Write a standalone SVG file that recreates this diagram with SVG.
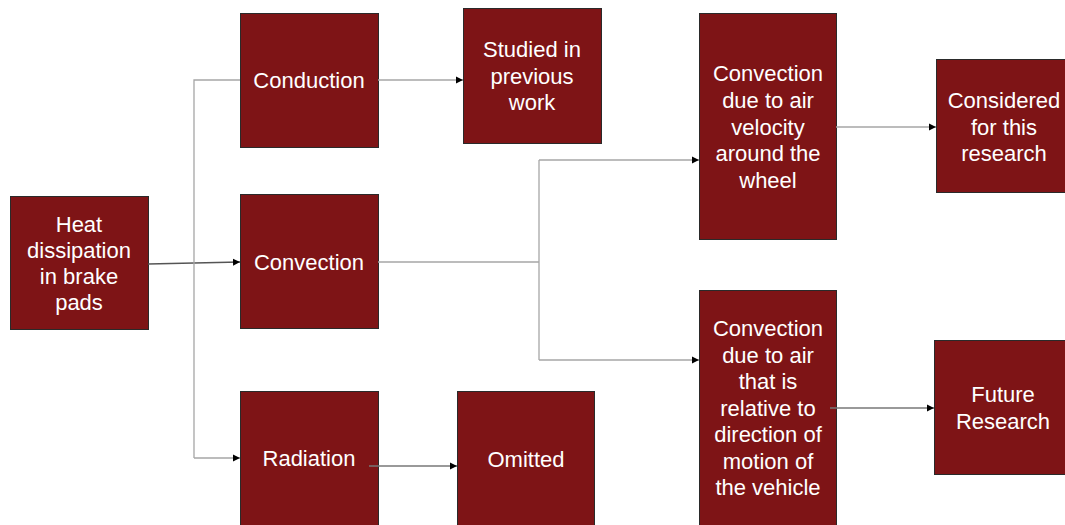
<svg xmlns="http://www.w3.org/2000/svg" width="1065" height="525" viewBox="0 0 1065 525">
<style>
.box{fill:#7e1416;stroke:#2a2a2a;stroke-width:1}
.t{font-family:"Liberation Sans",Arial,sans-serif;font-size:22px;fill:#ffffff;text-anchor:middle}
.c{fill:none;stroke:#a6a6a6;stroke-width:1.3}
.ca{fill:none;stroke:#a6a6a6;stroke-width:1.3;marker-end:url(#ah)}
</style>
<defs>
<marker id="ah" markerWidth="8" markerHeight="8" refX="7" refY="4" orient="auto" markerUnits="userSpaceOnUse">
<path d="M0,0.5 L7,4 L0,7.5 Z" fill="#000"/>
</marker>
</defs>
<rect width="1065" height="525" fill="#fff"/>
<g id="heat"><rect class="box" x="10.5" y="196.5" width="138" height="133"/>
<text class="t"><tspan x="79" y="232">Heat</tspan><tspan x="79" y="258">dissipation</tspan><tspan x="79" y="284">in brake</tspan><tspan x="79" y="310">pads</tspan></text></g>
<g id="conduction"><rect class="box" x="240.5" y="13.5" width="138" height="134"/>
<text class="t" x="309" y="88">Conduction</text></g>
<g id="convection"><rect class="box" x="240.5" y="194.5" width="138" height="134"/>
<text class="t" x="309" y="270">Convection</text></g>
<g id="radiation"><rect class="box" x="240.5" y="391.5" width="138" height="140"/>
<text class="t" x="309" y="466">Radiation</text></g>
<g id="studied"><rect class="box" x="463.5" y="8.5" width="138" height="135"/>
<text class="t"><tspan x="532" y="57">Studied in</tspan><tspan x="532" y="84">previous</tspan><tspan x="532" y="110">work</tspan></text></g>
<g id="omitted"><rect class="box" x="457.5" y="391.5" width="137" height="140"/>
<text class="t" x="526" y="467">Omitted</text></g>
<g id="velocity"><rect class="box" x="699.5" y="13.5" width="137" height="226"/>
<text class="t"><tspan x="768" y="81">Convection</tspan><tspan x="768" y="108">due to air</tspan><tspan x="768" y="135">velocity</tspan><tspan x="768" y="161">around the</tspan><tspan x="768" y="188">wheel</tspan></text></g>
<g id="relative"><rect class="box" x="699.5" y="290.5" width="137" height="240"/>
<text class="t"><tspan x="768" y="336">Convection</tspan><tspan x="768" y="363">due to air</tspan><tspan x="768" y="389">that is</tspan><tspan x="768" y="416">relative to</tspan><tspan x="768" y="442">direction of</tspan><tspan x="768" y="469">motion of</tspan><tspan x="768" y="495">the vehicle</tspan></text></g>
<g id="considered"><rect class="box" x="936.5" y="59.5" width="134" height="133"/>
<text class="t"><tspan x="1004" y="108">Considered</tspan><tspan x="1004" y="135">for this</tspan><tspan x="1004" y="161">research</tspan></text></g>
<g id="future"><rect class="box" x="934.5" y="340.5" width="136" height="134"/>
<text class="t"><tspan x="1003" y="402">Future</tspan><tspan x="1003" y="429">Research</tspan></text></g>
<g id="connectors">
<path class="ca" d="M148,264 L240,262" style="stroke:#555"/>
<path class="c" d="M240,80 L194,80 L194,458"/>
<path class="ca" d="M194,458 L240,458"/>
<path class="ca" d="M378,80 L463,80"/>
<path class="ca" d="M369,466 L457,466" style="stroke:#777"/>
<path class="c" d="M378,262 L539,262"/>
<path class="c" d="M539,160 L539,360"/>
<path class="ca" d="M539,160 L699,160"/>
<path class="ca" d="M539,360 L699,360"/>
<path class="ca" d="M836,127 L936,127"/>
<path class="ca" d="M830,408 L934,408" style="stroke:#777"/>
</g>
</svg>
